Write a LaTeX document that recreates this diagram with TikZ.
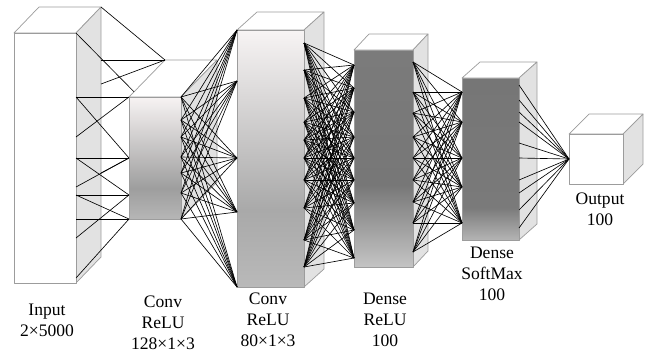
\documentclass[tikz,border=0pt]{standalone}
\usepackage{fontspec}
\setmainfont{Liberation Serif}
\usetikzlibrary{calc}

\definecolor{boxline}{HTML}{9C9C9C}
\definecolor{sidegray}{HTML}{E2E2E2}
\definecolor{cAtop}{HTML}{F7F3F3}
\definecolor{cAmid}{HTML}{9E9E9E}
\definecolor{cAbot}{HTML}{B6B6B6}
\definecolor{cBtop}{HTML}{F7F4F4}
\definecolor{cBmid}{HTML}{A9A9A9}
\definecolor{cBbot}{HTML}{B9B9B9}
\definecolor{dAtop}{HTML}{7B7B7B}
\definecolor{dAmid}{HTML}{777777}
\definecolor{dAbot}{HTML}{C4C4C4}
\definecolor{dBtop}{HTML}{767676}
\definecolor{dBmid}{HTML}{7A7A7A}
\definecolor{dBbot}{HTML}{B4B4B4}

\pgfdeclareverticalshading{convAshade}{100bp}{color(0bp)=(cAbot); color(25bp)=(cAbot); color(37.5bp)=(cAmid); color(75bp)=(cAtop); color(100bp)=(cAtop)}
\pgfdeclareverticalshading{convBshade}{100bp}{color(0bp)=(cBbot); color(25bp)=(cBbot); color(40bp)=(cBmid); color(75bp)=(cBtop); color(100bp)=(cBtop)}
\pgfdeclareverticalshading{denseAshade}{100bp}{color(0bp)=(dAbot); color(25bp)=(dAbot); color(44bp)=(dAmid); color(75bp)=(dAtop); color(100bp)=(dAtop)}
\pgfdeclareverticalshading{denseBshade}{100bp}{color(0bp)=(dBbot); color(25bp)=(dBbot); color(35bp)=(dBmid); color(75bp)=(dBtop); color(100bp)=(dBtop)}

% name, front top-left x/y, front bottom-right x/y, depth dx/dy, front style
\newcommand{\layerbox}[8]{%
  \coordinate (#1-nw) at (#2,#3);
  \coordinate (#1-ne) at (#4,#3);
  \coordinate (#1-se) at (#4,#5);
  \coordinate (#1-bnw) at (#2+#6,#3-#7);
  \coordinate (#1-bne) at (#4+#6,#3-#7);
  \coordinate (#1-bse) at (#4+#6,#5-#7);
  \filldraw[boxedge,fill=white] (#1-nw) -- (#1-bnw) -- (#1-bne) -- (#1-ne) -- cycle;
  \filldraw[boxedge,fill=sidegray] (#1-ne) -- (#1-bne) -- (#1-bse) -- (#1-se) -- cycle;
  \draw[boxedge,#8] (#1-nw) rectangle (#1-se);
}

\tikzset{
  boxedge/.style={draw=boxline,line width=0.6pt,line join=round},
  wire/.style={black,line width=0.55pt},
  lbl/.style={align=center,inner sep=0pt,font=\fontsize{15}{17.9}\selectfont}
}

\begin{document}
\begin{tikzpicture}[x=0.03cm,y=-0.03cm]
  \useasboundingbox (0,0) rectangle (654,355);

  \layerbox{in}{14}{33}{76}{283}{25}{26}{fill=white}
  \layerbox{cA}{129}{97}{181}{219}{36}{37}{shade,shading=convAshade}
  \layerbox{cB}{237}{30}{304}{287}{20}{18}{shade,shading=convBshade}
  \layerbox{dA}{354}{50}{413}{267}{15}{16}{shade,shading=denseAshade}
  \layerbox{dB}{462}{78}{519}{240}{18}{16}{shade,shading=denseBshade}
  \layerbox{out}{569}{134}{623}{184}{20}{20}{fill=white}

  % input -> conv 128
  \foreach \y [count=\i] in {33,97,137,158,187,195,219,238,278}
    \coordinate (in-f\i) at (76,\y);
  \foreach \y [count=\i] in {7,60,84,173}
    \coordinate (in-b\i) at (101,\y);
  \foreach \y [count=\i] in {97,158,195,219}
    \coordinate (cA-i\i) at (129,\y);
  \coordinate (cA-tp) at ($(cA-nw)!0.14!(cA-bnw)$);
  \foreach \a/\b in {b1/bnw,b2/bnw,b3/bnw,f1/tp,f2/i1,f3/i1,f2/i2,f4/i2,f5/i2,b4/i2,
                     f4/i3,f6/i3,f8/i3,f6/i4,f7/i4,f9/i4}
    \draw[wire] (in-\a) -- (cA-\b);

  % conv 128 -> conv 80
  \foreach \y [count=\i] in {97,120,137,157,173,193,219}
    \coordinate (cA-o\i) at (181,\y);
  \foreach \y [count=\i] in {30,81,158,212,287}
    \coordinate (cB-i\i) at (237,\y);
  \foreach \i in {1,...,7}
    \foreach \j in {1,...,5}
      \draw[wire] (cA-o\i) -- (cB-i\j);

  % conv 80 -> dense relu
  \foreach \y [count=\i] in {43,70,98,122,140,158,180,208,240,267}
    \coordinate (cB-o\i) at (304,\y);
  \foreach \y [count=\i] in {65,88,112,137,158,180,203,230,258}
    \coordinate (dA-i\i) at (354,\y);
  \foreach \i in {1,...,10}
    \foreach \j in {1,...,9}
      \draw[wire] (cB-o\i) -- (dA-i\j);

  % dense relu -> dense softmax
  \foreach \y [count=\i] in {62,92,113,137,158,180,202,223,252}
    \coordinate (dA-o\i) at (413,\y);
  \foreach \y [count=\i] in {92,122,158,187,223}
    \coordinate (dB-i\i) at (462,\y);
  \foreach \i in {1,...,9}
    \foreach \j in {1,...,5}
      \draw[wire] (dA-o\i) -- (dB-i\j);

  % dense softmax -> output
  \coordinate (out-in) at (569,159);
  \foreach \y [count=\i] in {85,100,112,122,143,158,180,193,210,228} {
    \coordinate (dB-o\i) at (519,\y);
    \draw[wire] (dB-o\i) -- (out-in);
  }

  \node[lbl] (inlbl) at (47,320.5) {Input\\2×5000};
  \node[lbl] (cAlbl) at (163,322.5) {Conv\\ReLU\\128×1×3};
  \node[lbl] (cBlbl) at (268,320) {Conv\\ReLU\\80×1×3};
  \node[lbl] (dAlbl) at (385,320) {Dense\\ReLU\\100};
  \node[lbl] (dBlbl) at (492,274) {Dense\\SoftMax\\100};
  \node[lbl] (outlbl) at (600,209) {Output\\100};
\end{tikzpicture}
\end{document}
